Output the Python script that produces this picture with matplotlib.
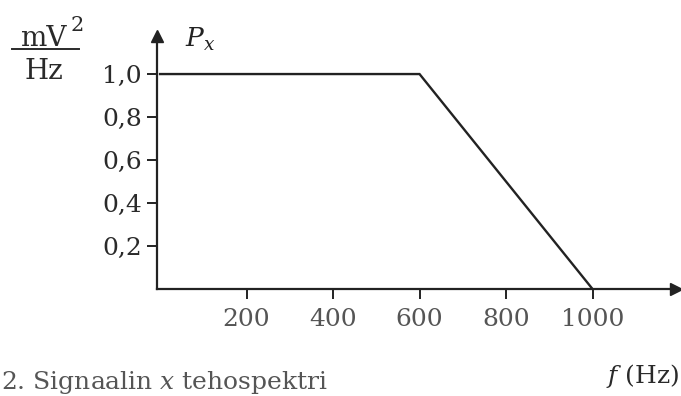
import numpy as np
import matplotlib
matplotlib.use('Agg')
import matplotlib.pyplot as plt

# Data -------------
freq = [0, 600, 1000]          # Hz
power = [1.0, 1.0, 0.0]        # mV^2/Hz
x_ticks = [200, 400, 600, 800, 1000]
y_ticks = [0.2, 0.4, 0.6, 0.8, 1.0]
# ------------------

ink = '#222222'
gray = '#555555'
plt.rcParams['font.family'] = 'DejaVu Serif'
plt.rcParams['mathtext.fontset'] = 'dejavuserif'

W, H = 681, 396
fig = plt.figure(figsize=(W/100, H/100), dpi=100)
fig.patch.set_facecolor('white')

# axes box in pixels: left 157, right 676, bottom 289 (from top), top 36 (from top)
ax = fig.add_axes([157/W, (H-289)/H, (676-157)/W, (289-36)/H])
ax.set_xlim(-7, 1193)
ax.set_ylim(0, 1.177)

ax.plot(freq, power, color=ink, linewidth=1.7, solid_joinstyle='miter')

for s in ['top', 'right']:
	ax.spines[s].set_visible(False)
for s in ['left', 'bottom']:
	ax.spines[s].set_color(ink)
	ax.spines[s].set_linewidth(1.6)

# arrow heads at the ends of the axes
ax.plot(1, 0, '>', color=ink, markersize=9, transform=ax.transAxes, clip_on=False)
ax.plot(0, 1, '^', color=ink, markersize=9, transform=ax.transAxes, clip_on=False)

ax.set_xticks(x_ticks)
ax.set_xticklabels([str(v) for v in x_ticks])
ax.set_yticks(y_ticks)
ax.set_yticklabels([('%.1f' % v).replace('.', ',') for v in y_ticks])
ax.tick_params(axis='x', direction='out', length=7, width=1.4, color=ink,
	labelsize=18, labelcolor=gray, pad=7)
ax.tick_params(axis='y', direction='out', length=7, width=1.4, color=ink,
	labelsize=18, labelcolor='#2a2a2a', pad=4)

def px(x, y):
	return x/W, 1 - y/H

# unit label mV^2 / Hz
fig.text(*px(43, 46), 'mV', ha='center', va='baseline', fontsize=20, color='#2a2a2a')
fig.text(*px(77, 31), '2', ha='center', va='baseline', fontsize=15, color='#2a2a2a')
fig.add_artist(plt.Line2D([12/W, 79/W], [1-49/H, 1-49/H], color='#2a2a2a', linewidth=1.4))
fig.text(*px(44, 79), 'Hz', ha='center', va='baseline', fontsize=20, color='#2a2a2a')

fig.text(*px(185, 47), r'$P_x$', ha='left', va='baseline', fontsize=19, color=ink)

fig.text(*px(679, 383), r'$f$ (Hz)', ha='right', va='baseline', fontsize=18, color='#2a2a2a')
fig.text(*px(1, 389), r'2. Signaalin $x$ tehospektri', ha='left', va='baseline',
	fontsize=18, color=gray)

fig.savefig('out.png', dpi=100)
